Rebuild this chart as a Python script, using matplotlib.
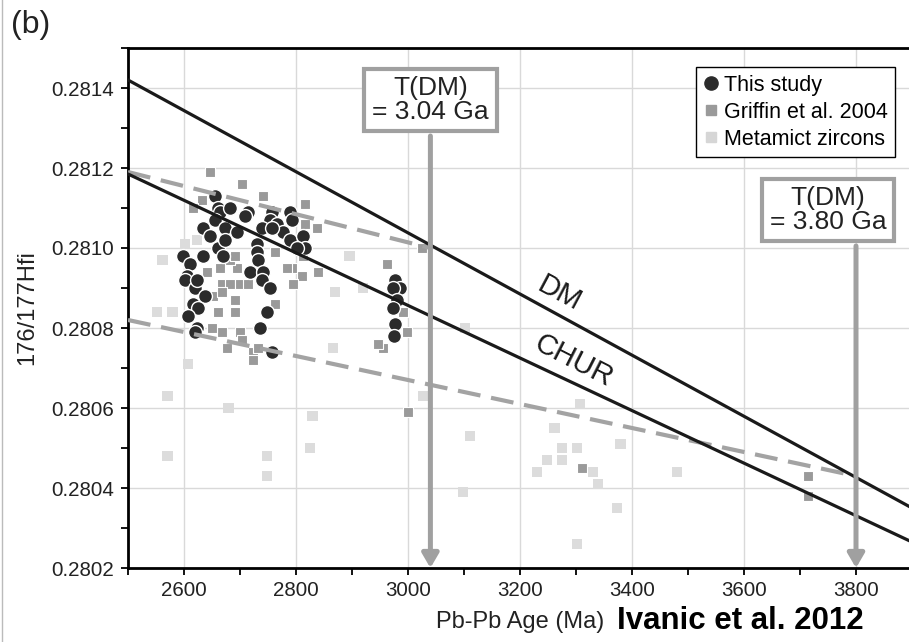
import numpy as np
import matplotlib
matplotlib.use("Agg")
import matplotlib.pyplot as plt
from matplotlib.lines import Line2D

plt.rcParams['font.family'] = ['Liberation Sans', 'DejaVu Sans']

# This study (black circles)
this_age = [2655, 2661, 2664, 2682, 2714, 2709, 2634, 2655, 2646, 2673, 2695, 2661, 2670, 2673,
            2598, 2611, 2634, 2605, 2602, 2620, 2623, 2638, 2616, 2625, 2607, 2623, 2620,
            2757, 2754, 2739, 2766, 2789, 2793, 2777, 2789, 2812, 2816, 2802, 2730, 2730, 2732,
            2718, 2741, 2739, 2754, 2748, 2736, 2757, 2757,
            2977, 2986, 2973, 2980, 2973, 2977, 2975]
this_hf = [0.28113, 0.28110, 0.28109, 0.28110, 0.28109, 0.28108, 0.28105, 0.28107, 0.28103, 0.28105,
           0.28104, 0.28100, 0.28098, 0.28102, 0.28098, 0.28096, 0.28098, 0.28093, 0.28092, 0.28090,
           0.28092, 0.28088, 0.28086, 0.28085, 0.28083, 0.28080, 0.28079,
           0.28109, 0.28107, 0.28105, 0.28106, 0.28109, 0.28107, 0.28104, 0.28102, 0.28103, 0.28100,
           0.28100, 0.28101, 0.28099, 0.28097, 0.28094, 0.28094, 0.28092, 0.28090, 0.28084, 0.28080,
           0.28074, 0.28105,
           0.28092, 0.28090, 0.28090, 0.28087, 0.28085, 0.28081, 0.28078]

# Griffin et al. 2004 (grey squares)
griffin_age = [2646, 2704, 2741, 2816, 2632, 2616, 2838, 2816, 2839, 2811, 2795, 2793, 2762, 2641,
               2695, 2682, 2691, 2664, 2668, 2682, 2700, 2714, 2652, 2668, 2691, 2762, 2661, 2691,
               2668, 2700, 2677, 2704, 2723, 2732, 2650, 2784, 2812, 2963, 3025, 2998, 2955, 2946,
               2991, 3000, 2723, 3311, 3714, 3714]
griffin_hf = [0.28119, 0.28116, 0.28113, 0.28111, 0.28112, 0.28110, 0.28105, 0.28106, 0.28094, 0.28093,
              0.28091, 0.28095, 0.28099, 0.28094, 0.28095, 0.28097, 0.28098, 0.28095, 0.28091, 0.28091,
              0.28091, 0.28091, 0.28088, 0.28089, 0.28087, 0.28086, 0.28084, 0.28084, 0.28079, 0.28079,
              0.28075, 0.28077, 0.28074, 0.28075, 0.28080, 0.28095, 0.28098, 0.28096, 0.28100, 0.28079,
              0.28075, 0.28076, 0.28084, 0.28059, 0.28072, 0.28045, 0.28043, 0.28038]

# Metamict zircons (light grey squares)
meta_age = [2562, 2552, 2579, 2602, 2623, 2571, 2679, 2607, 2829, 2825, 2748, 2748, 2571, 3027,
            3111, 3307, 3262, 3275, 3302, 3248, 3275, 3230, 3330, 3339, 3379, 3480, 3098, 3373,
            3302, 2896, 2870, 2920, 2866, 3102]
meta_hf = [0.28097, 0.28084, 0.28084, 0.28101, 0.28102, 0.28063, 0.28060, 0.28071, 0.28058, 0.28050,
           0.28048, 0.28043, 0.28048, 0.28063, 0.28053, 0.28061, 0.28055, 0.28050, 0.28050, 0.28047,
           0.28047, 0.28044, 0.28044, 0.28041, 0.28051, 0.28044, 0.28039, 0.28035, 0.28026, 0.28098,
           0.28089, 0.28090, 0.28075, 0.28080]

# evolution lines
dm_age = [2500, 3900]
dm_hf = [0.28142, 0.28035]
chur_age = [2500, 3900]
chur_hf = [0.281185, 0.280265]
upper_dash_age = [2500, 3040]
upper_dash_hf = [0.28119, 0.28100]
lower_dash_age = [2500, 3800]
lower_dash_hf = [0.28082, 0.28043]

# model ages
tdm_ages = [3040, 3800]
tdm_labels = ["T(DM)\n= 3.04 Ga", "T(DM)\n= 3.80 Ga"]
tdm_box_pos = [(3040, 0.28137), (3750, 0.281095)]
tdm_arrow_top = [0.28128, 0.281005]

xticks = [2600, 2800, 3000, 3200, 3400, 3600, 3800]
yticks = [0.2802, 0.2804, 0.2806, 0.2808, 0.2810, 0.2812, 0.2814]

fig = plt.figure(figsize=(9.09, 6.42), dpi=100)
ax = fig.add_axes([128/909, 1-568/642, 784/909, 520/642])

ax.set_xlim(2500, 3900)
ax.set_ylim(0.2802, 0.2815)
ax.set_xticks(xticks)
ax.set_xticks(np.arange(2500, 3901, 100), minor=True)
ax.set_yticks(yticks)
ax.set_yticklabels([f"{v:.4f}" for v in yticks])
ax.set_yticks(np.arange(0.2802, 0.28151, 0.0001), minor=True)
ax.grid(True, which='major', color='#d9d9d9', lw=1.0, zorder=0)
ax.set_axisbelow(True)

for s in ['left', 'bottom', 'top', 'right']:
    ax.spines[s].set_linewidth(2.0)
ax.tick_params(which='both', direction='out', length=5, width=1.3, labelsize=14.8,
               labelcolor='#222222', top=False, right=False)
ax.tick_params(axis='y', pad=5)
ax.tick_params(axis='x', pad=4)

ax.scatter(meta_age, meta_hf, marker='s', s=58, color='#dcdcdc', edgecolors='none', zorder=2)
ax.scatter(griffin_age, griffin_hf, marker='s', s=50, color='#9a9a9a', edgecolors='white',
           linewidths=0.8, zorder=3)
ax.scatter(this_age, this_hf, marker='o', s=100, color='#2b2b2b', edgecolors='white',
           linewidths=1.0, zorder=4)

ax.plot(upper_dash_age, upper_dash_hf, color='#a3a3a3', lw=3, dashes=(5.5, 2.6), zorder=5)
ax.plot(lower_dash_age, lower_dash_hf, color='#a3a3a3', lw=3, dashes=(5.5, 2.6), zorder=5)
ax.plot(dm_age, dm_hf, color='#1a1a1a', lw=2.3, zorder=6)
ax.plot(chur_age, chur_hf, color='#1a1a1a', lw=2.3, zorder=6)

ax.text(3271, 0.280885, "DM", fontsize=21, rotation=-28, ha='center', va='center', color='#1a1a1a')
ax.text(3295, 0.280718, "CHUR", fontsize=21, rotation=-27, ha='center', va='center', color='#1a1a1a')

for age, lab, pos, ytop in zip(tdm_ages, tdm_labels, tdm_box_pos, tdm_arrow_top):
    ax.annotate('', xy=(age, 0.2802), xytext=(age, ytop),
                arrowprops=dict(arrowstyle='-|>,head_length=0.6,head_width=0.35', color='#a0a0a0',
                                lw=3.6, mutation_scale=14, shrinkA=0, shrinkB=0), zorder=7)
    ax.text(pos[0], pos[1], lab, fontsize=19, ha='center', va='center', multialignment='center',
            linespacing=0.95, color='#222222', zorder=8,
            bbox=dict(boxstyle='square,pad=0.3', fc='white', ec='#a0a0a0', lw=3))

handles = [Line2D([], [], ls='none', marker='o', ms=9.5, color='#2b2b2b'),
           Line2D([], [], ls='none', marker='s', ms=7.5, color='#9a9a9a'),
           Line2D([], [], ls='none', marker='s', ms=7.5, color='#d6d6d6')]
leg = ax.legend(handles, ["This study", "Griffin et al. 2004", "Metamict zircons"],
                loc='upper right', bbox_to_anchor=((895-128)/784, 1-(67-48)/520), fontsize=15.5,
                frameon=True, fancybox=False, edgecolor='black', framealpha=1, borderpad=0.35,
                labelspacing=0.28, handlelength=0.7, handletextpad=0.25, borderaxespad=0)
leg.get_frame().set_linewidth(1.0)
leg.set_zorder(9)

ax.set_xlabel("Pb-Pb Age (Ma)", fontsize=17, color='#222222', va='center')
ax.xaxis.set_label_coords(0.5, -(622-568)/520)
ax.set_ylabel("176/177Hfi", fontsize=17, color='#222222', va='center')
ax.yaxis.set_label_coords((27-128)/784, 0.5)

fig.text(31/909, 1-25/642, "(b)", fontsize=23, ha='center', va='center', color='#222222')
fig.text(740/909, 1-621/642, "Ivanic et al. 2012", fontsize=22.5, fontweight='bold',
         ha='center', va='center', color='black')
fig.add_artist(Line2D([2/909, 2/909], [0, 1], color='#bbbbbb', lw=1))

fig.savefig("out.png", dpi=100)
